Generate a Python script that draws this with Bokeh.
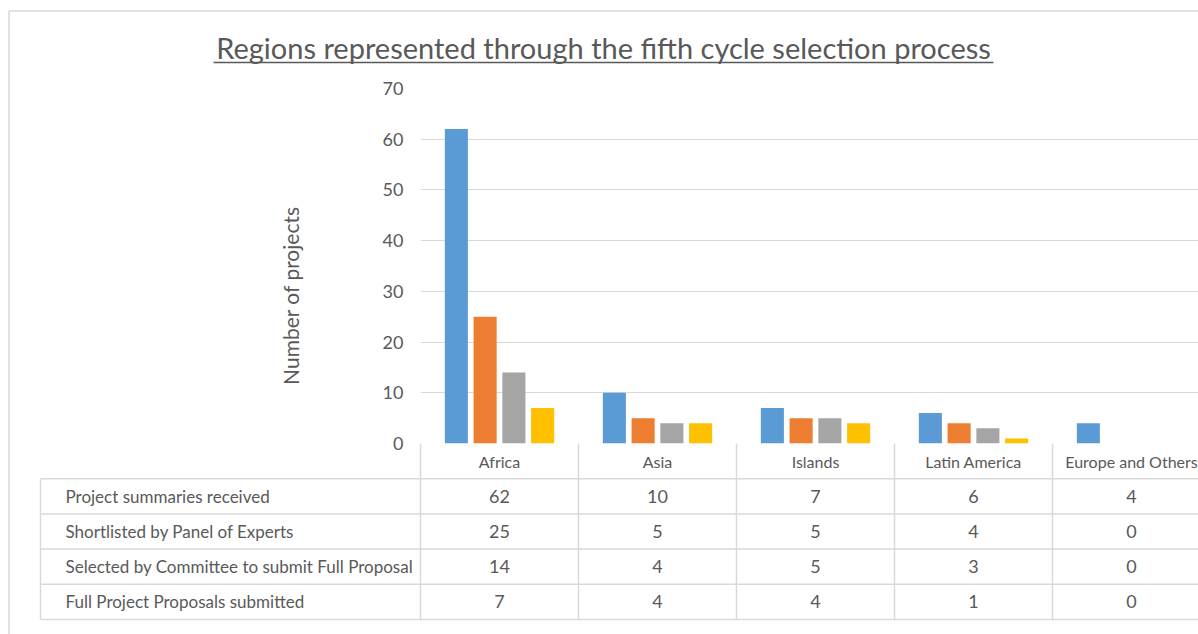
import math
from bokeh.plotting import figure
from bokeh.models import ColumnDataSource, Range1d, FixedTicker
from bokeh.transform import dodge
from bokeh.core.properties import value
from bokeh.embed import file_html
from bokeh.resources import INLINE

# ---------------- data ----------------
regions = ["Africa", "Asia", "Islands", "Latin America", "Europe and Others"]
series_names = [
    "Project summaries received",
    "Shortlisted by Panel of Experts",
    "Selected by Committee to submit Full Proposal",
    "Full Project Proposals submitted",
]
summaries = [62, 10, 7, 6, 4]
shortlisted = [25, 5, 5, 4, 0]
selected = [14, 4, 5, 3, 0]
full_proposals = [7, 4, 4, 1, 0]
series_colors = ["#5B9BD5", "#ED7D31", "#A5A5A5", "#FFC000"]
y_ticks = [0, 10, 20, 30, 40, 50, 60, 70]
title_text = "Regions represented through the fifth cycle selection process"
y_label = "Number of projects"

series_values = [summaries, shortlisted, selected, full_proposals]

# ---------------- layout ----------------
W, H = 1198, 634
PLOT_L, PLOT_T, PLOT_B = 420, 88, 443      # plot-area edges in canvas pixels
COL_PX = 158.0
frame_w = W - PLOT_L
frame_h = PLOT_B - PLOT_T
y_max = 70
ppu = frame_h / y_max
x_end = frame_w / COL_PX

FONT = "Lato"
TXT = "#595959"
GRID = "#D9D9D9"


def cx(px):  # canvas x pixel -> data x
    return (px - PLOT_L) / COL_PX


def cy(py):  # canvas y pixel -> data y
    return (PLOT_B - py) / ppu


p = figure(
    width=W, height=H,
    x_range=Range1d(0, x_end), y_range=Range1d(0, y_max),
    output_backend="svg", toolbar_location=None,
    x_axis_location=None,
    min_border_left=PLOT_L, min_border_right=0,
    min_border_top=PLOT_T, min_border_bottom=H - PLOT_B,
)
p.outline_line_color = None
p.xgrid.grid_line_color = None
p.ygrid.grid_line_color = GRID
p.ygrid.grid_line_width = 1
p.background_fill_color = "white"
p.border_fill_color = "white"

yax = p.yaxis[0]
yax.ticker = FixedTicker(ticks=y_ticks)
yax.axis_line_color = None
yax.major_tick_line_color = None
yax.minor_tick_line_color = None
yax.major_tick_out = 0
yax.major_tick_in = 0
yax.major_label_standoff = 17
yax.major_label_text_font = FONT
yax.major_label_text_font_size = "18px"
yax.major_label_text_color = TXT

# ---------------- bars ----------------
n = len(regions)
data = dict(x=[i + 0.5 for i in range(n)], region=regions)
keys = []
for k, vals in enumerate(series_values):
    key = "s%d" % k
    data[key] = vals
    keys.append(key)
src = ColumnDataSource(data)

pitch = 0.182
offsets = [(k - (len(keys) - 1) / 2) * pitch for k in range(len(keys))]
for k, key in enumerate(keys):
    p.vbar(x=dodge("x", offsets[k]), top=key, width=0.146, source=src,
           fill_color=series_colors[k], line_color=None)

# ---------------- axis title ----------------
p.text(x=[cx(290)], y=[cy(295)], text=[y_label], angle=math.pi / 2,
       text_align="center", text_baseline="middle", text_font=value(FONT),
       text_font_size="21px", text_color=TXT, level="overlay")

# ---------------- data table below the plot ----------------
row_h = 35.2 / ppu
n_rows = len(series_names)
table_left = cx(40)
label_col_x = cx(65)
marker_x = cx(49.5)

hx0, hx1, hy = [], [], []
for r in range(1, n_rows + 2):
    hx0.append(table_left)
    hx1.append(x_end)
    hy.append(-r * row_h)
p.segment(x0=hx0, y0=hy, x1=hx1, y1=hy, line_color=GRID, line_width=1.5, level="overlay")
vx, vy0, vy1 = [table_left], [-row_h], [-(n_rows + 1) * row_h]
for i in range(n + 1):
    vx.append(i)
    vy0.append(0)
    vy1.append(-(n_rows + 1) * row_h)
p.segment(x0=vx, y0=vy0, x1=vx, y1=vy1, line_color=GRID, line_width=1.5, level="overlay")

p.text(x=[i + 0.5 for i in range(n)], y=[-0.5 * row_h] * n, text=regions,
       text_align="center", text_baseline="middle", text_font=value(FONT),
       text_font_size="16px", text_color=TXT, level="overlay")

tx, ty, tt = [], [], []
for r, vals in enumerate(series_values):
    for i, v in enumerate(vals):
        tx.append(i + 0.5)
        ty.append(-(r + 1.5) * row_h)
        tt.append(str(v))
p.text(x=tx, y=ty, text=tt, text_align="center", text_baseline="middle",
       text_font=value(FONT), text_font_size="18px", text_color=TXT, level="overlay")

row_y = [-(r + 1.5) * row_h for r in range(n_rows)]
p.scatter(x=[marker_x] * n_rows, y=row_y, marker="square", size=9,
          fill_color=series_colors, line_color=None, level="overlay")
p.text(x=[label_col_x] * n_rows, y=row_y, text=series_names, text_align="left",
       text_baseline="middle", text_font=value(FONT), text_font_size="17px",
       text_color=TXT, level="overlay")

# ---------------- title with underline ----------------
p.text(x=[cx(603)], y=[cy(47)], text=[title_text], text_align="center",
       text_baseline="middle", text_font=value(FONT), text_font_size="29px",
       text_color=TXT, level="overlay")
p.segment(x0=[cx(213)], y0=[cy(62)], x1=[cx(993)], y1=[cy(62)],
          line_color=TXT, line_width=1.5, level="overlay")

# ---------------- chart-area border ----------------
bl = cx(8.5)
bt = cy(10.5)
p.segment(x0=[bl, bl], y0=[bt, bt], x1=[x_end + 1, bl], y1=[bt, cy(H + 10)],
          line_color=GRID, line_width=1.5, level="overlay")

open("out.html", "w").write(file_html(p, INLINE))
